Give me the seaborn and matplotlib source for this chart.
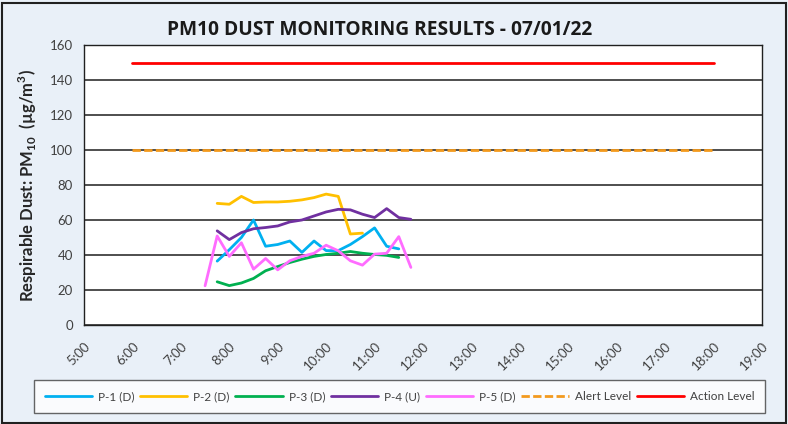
import pandas as pd
import numpy as np
import matplotlib.pyplot as plt
import seaborn as sns
from matplotlib.patches import Rectangle

sns.set_style('white')
plt.rcParams['font.family'] = ['Lato', 'DejaVu Sans']
plt.rcParams['mathtext.fontset'] = 'custom'
plt.rcParams['mathtext.rm'] = 'Lato'
plt.rcParams['mathtext.bf'] = 'Lato:bold'

# readings every 15 minutes
t_p1 = ['7:45', '8:00', '8:15', '8:30', '8:45', '9:00', '9:15', '9:30', '9:45',
        '10:00', '10:15', '10:30', '10:45', '11:00', '11:15', '11:30']
p1 = [36.5, 43, 50, 60, 45, 46, 48, 41.5, 48, 42.5, 42.5, 46, 50.5, 55.5, 45, 43.5]

t_p2 = ['7:45', '8:00', '8:15', '8:30', '8:45', '9:00', '9:15', '9:30', '9:45',
        '10:00', '10:15', '10:30', '10:45']
p2 = [69.5, 69, 73.5, 70, 70.3, 70.3, 70.7, 71.5, 72.8, 74.8, 73.5, 52, 52.5]

t_p3 = ['7:45', '8:00', '8:15', '8:30', '8:45', '9:00', '9:15', '9:30', '9:45',
        '10:00', '10:15', '10:30', '10:45', '11:00', '11:15', '11:30']
p3 = [24.7, 22.5, 24, 26.6, 31, 33.4, 35.7, 37.6, 39.2, 40.3, 41, 42, 41, 40.3, 39.8, 38.6]

t_p4 = ['7:45', '8:00', '8:15', '8:30', '8:45', '9:00', '9:15', '9:30', '9:45',
        '10:00', '10:15', '10:30', '10:45', '11:00', '11:15', '11:30', '11:45']
p4 = [53.8, 48.8, 52.8, 55, 55.7, 56.6, 58.9, 60, 62.3, 64.6, 66.1, 65.8, 63.3,
      61.4, 66.5, 61.4, 60.4]

t_p5 = ['7:30', '7:45', '8:00', '8:15', '8:30', '8:45', '9:00', '9:15', '9:30', '9:45',
        '10:00', '10:15', '10:30', '10:45', '11:00', '11:15', '11:30', '11:45']
p5 = [22.4, 50.9, 39.2, 47, 31.9, 38, 31.5, 36.7, 39.2, 41, 45.6, 42.4, 36.7,
      34.2, 40.5, 41, 50.5, 32.9]

t_limits = ['6:00', '18:00']
alert = [100, 100]
action = [150, 150]

hour_ticks = [f'{h}:00' for h in range(5, 20)]


def hrs(times):
    return pd.to_timedelta([t + ':00' for t in times]) / pd.Timedelta(hours=1)


fig = plt.figure(figsize=(7.88, 4.24), dpi=100)
fig.patch.set_facecolor('#E9F0F8')
ax = fig.add_axes([84 / 788, 1 - 325 / 424, (762 - 84) / 788, (325 - 45) / 424])
ax.set_facecolor('white')

series = [
    ('P-1 (D)', t_p1, p1, '#00B0F0'),
    ('P-2 (D)', t_p2, p2, '#FFC000'),
    ('P-3 (D)', t_p3, p3, '#00B050'),
    ('P-4 (U)', t_p4, p4, '#7030A0'),
    ('P-5 (D)', t_p5, p5, '#FF6CFF'),
]
for name, tt, vals, col in series:
    sns.lineplot(x=hrs(tt), y=vals, ax=ax, color=col, lw=2, label=name,
                 solid_joinstyle='round', solid_capstyle='round')

sns.lineplot(x=hrs(t_limits), y=alert, ax=ax, color='#F39A1E', lw=2,
             linestyle=(0, (3, 1.2)), label='Alert Level')
sns.lineplot(x=hrs(t_limits), y=action, ax=ax, color='#FF0000', lw=2,
             label='Action Level')

ax.set_xlim(5, 19)
ax.set_ylim(0, 160)
ax.set_yticks(range(0, 161, 20))
ax.set_xticks(hrs(hour_ticks))
ax.set_xticklabels(hour_ticks, rotation=45, ha='right', va='top',
                   rotation_mode='anchor', fontsize=9.5, color='#404040')
ax.tick_params(axis='y', labelsize=9.5, labelcolor='#404040', length=0, pad=8)
ax.tick_params(axis='x', length=0, pad=11)
ax.grid(axis='y', color='#404040', lw=1.3)
ax.set_axisbelow(True)
for s in ax.spines.values():
    s.set_color('#202020')
    s.set_linewidth(1)

ax.set_xlabel('')
ax.set_ylabel(r'Respirable Dust: PM$_{\mathbf{10}}$  (µg/m$^{\mathbf{3}}$)',
              fontsize=12, fontweight='bold')
ax.yaxis.set_label_coords(-0.066, 0.5)

fig.text(380 / 788, 1 - 30 / 424, 'PM10 DUST MONITORING RESULTS - 07/01/22',
         ha='center', va='center', fontsize=13.8, fontweight='bold', color='#1A1A1A',
         family=['Open Sans', 'DejaVu Sans'])

handles, labels = ax.get_legend_handles_labels()
ax.get_legend().remove()
leg = fig.legend(handles, labels, loc='center', ncol=7, mode='expand',
                 bbox_to_anchor=(28 / 788, 1 - 420 / 424, (771 - 28) / 788, 47 / 424),
                 fontsize=8.5, frameon=True, fancybox=False, handlelength=4.0,
                 handletextpad=0.5, borderpad=0.9)
leg.get_frame().set_edgecolor('#404040')
leg.get_frame().set_linewidth(1)
for t in leg.get_texts():
    t.set_color('#404040')

fig.patches.append(Rectangle((0.002, 0.002), 0.995, 0.99, transform=fig.transFigure,
                             fill=False, edgecolor='#202020', lw=1.5))

fig.savefig('out.png', dpi=100, facecolor=fig.get_facecolor())
